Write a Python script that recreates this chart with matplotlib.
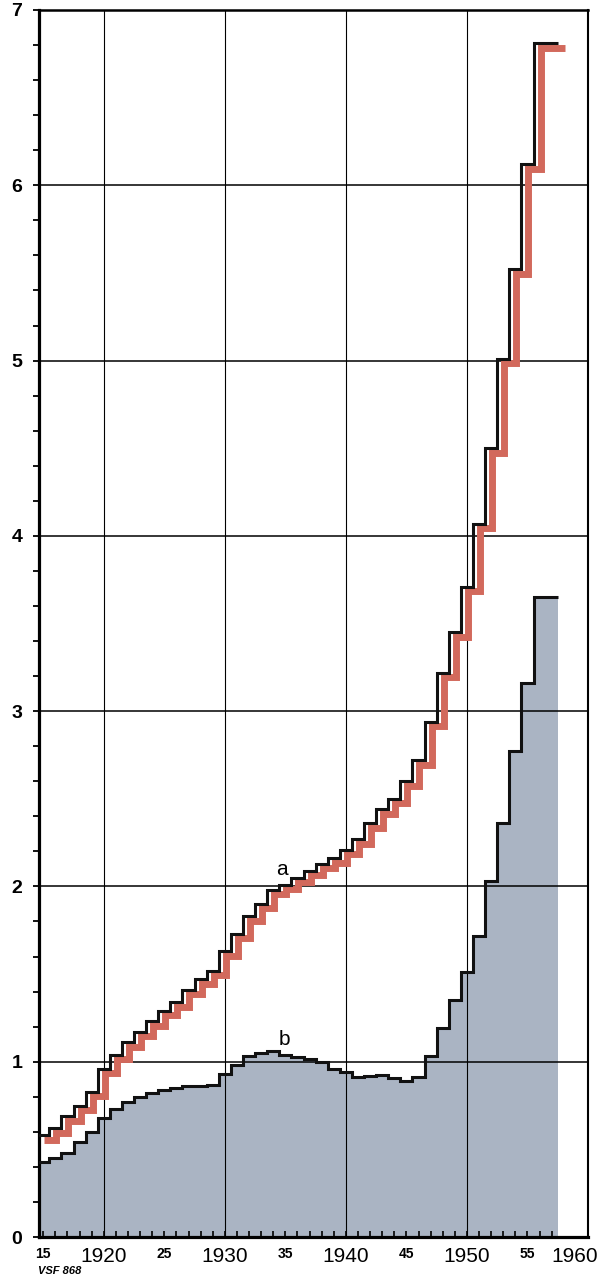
import numpy as np
import matplotlib.pyplot as plt
import matplotlib.transforms as mtransforms

plt.rcParams['font.family'] = ['Liberation Sans', 'DejaVu Sans']

# data (one value per year, step centred on the year)
years = np.arange(1915, 1958)
a_vals = [0.58, 0.62, 0.69, 0.75, 0.83, 0.96, 1.04, 1.11, 1.17, 1.23,
          1.29, 1.34, 1.41, 1.47, 1.52, 1.63, 1.73, 1.83, 1.90, 1.98,
          2.01, 2.05, 2.09, 2.13, 2.16, 2.21, 2.27, 2.36, 2.44, 2.50,
          2.60, 2.72, 2.94, 3.22, 3.45, 3.71, 4.07, 4.50, 5.01, 5.52,
          6.12, 6.81, 6.81]
b_vals = [0.43, 0.45, 0.48, 0.54, 0.60, 0.68, 0.73, 0.77, 0.80, 0.82,
          0.84, 0.85, 0.86, 0.86, 0.87, 0.93, 0.98, 1.03, 1.05, 1.06,
          1.04, 1.025, 1.015, 1.00, 0.96, 0.94, 0.915, 0.92, 0.925, 0.905,
          0.89, 0.91, 1.03, 1.19, 1.35, 1.51, 1.72, 2.03, 2.36, 2.77,
          3.16, 3.65, 3.65]

x_major = [1915, 1920, 1925, 1930, 1935, 1940, 1945, 1950, 1955, 1960]
x_labels = ['15', '1920', '25', '1930', '35', '1940', '45', '1950', '55', '1960']
y_major = [0, 1, 2, 3, 4, 5, 6, 7]
v_grid = [1920, 1930, 1940, 1950]

edges = np.append(years - 0.5, years[-1] + 0.5)

fig = plt.figure(figsize=(6.01, 12.74), dpi=100)
ax = fig.add_axes([39 / 601, 37 / 1274, 549 / 601, 1227 / 1274])

# grey area under b
ax.stairs(b_vals, edges, fill=True, color='#aab4c3', lw=0, zorder=1)

# grid
for v in y_major[1:-1]:
    ax.axhline(v, color='black', lw=1.1, zorder=2)
for v in v_grid:
    ax.axvline(v, color='black', lw=0.8, zorder=2)

# red shadow of a, shifted down-right
shift = mtransforms.ScaledTranslation(7 / 100, -4.5 / 100, fig.dpi_scale_trans)
ax.stairs(a_vals, edges, baseline=None, color='#d2695c', lw=5, zorder=3,
          transform=ax.transData + shift)
ax.stairs(a_vals, edges, baseline=None, color='#111111', lw=2.2, zorder=4)
ax.stairs(b_vals, edges, baseline=None, color='#111111', lw=2.2, zorder=4)

ax.text(1934.7, 2.04, 'a', fontsize=15, ha='center', va='bottom', zorder=5)
ax.text(1934.9, 1.075, 'b', fontsize=15, ha='center', va='bottom', zorder=5)

ax.set_xlim(1914.65, 1959.8)
ax.set_ylim(0, 7)

# axes frame
ax.spines['left'].set_linewidth(2.3)
ax.spines['bottom'].set_linewidth(2.3)
ax.spines['top'].set_linewidth(1.8)
ax.spines['right'].set_linewidth(1.5)

ax.set_yticks(y_major)
ax.set_yticklabels([str(v) for v in y_major], fontsize=14, fontweight='bold')
ax.set_yticks(np.arange(0, 7.01, 0.2), minor=True)
ax.tick_params(axis='y', which='both', direction='out', length=4, width=1.3, pad=8)

ax.set_xticks(x_major)
ax.set_xticklabels(x_labels)
ax.set_xticks(years, minor=True)
ax.tick_params(axis='x', which='both', direction='in', length=4, width=1.2, pad=7)
for lab, txt in zip(ax.get_xticklabels(), x_labels):
    if len(txt) == 4:
        lab.set_fontsize(15)
    else:
        lab.set_fontsize(10)
        lab.set_fontweight('bold')
# last year label sits a little inside the frame
last = ax.get_xticklabels()[-1]
last.set_transform(last.get_transform()
                   + mtransforms.ScaledTranslation(-13 / 100, 0, fig.dpi_scale_trans))

fig.text(38 / 601, 1 - 1266 / 1274, 'VSF 868', fontsize=8, fontweight='bold',
         fontstyle='italic', va='top')

fig.savefig('out.png', dpi=100)
